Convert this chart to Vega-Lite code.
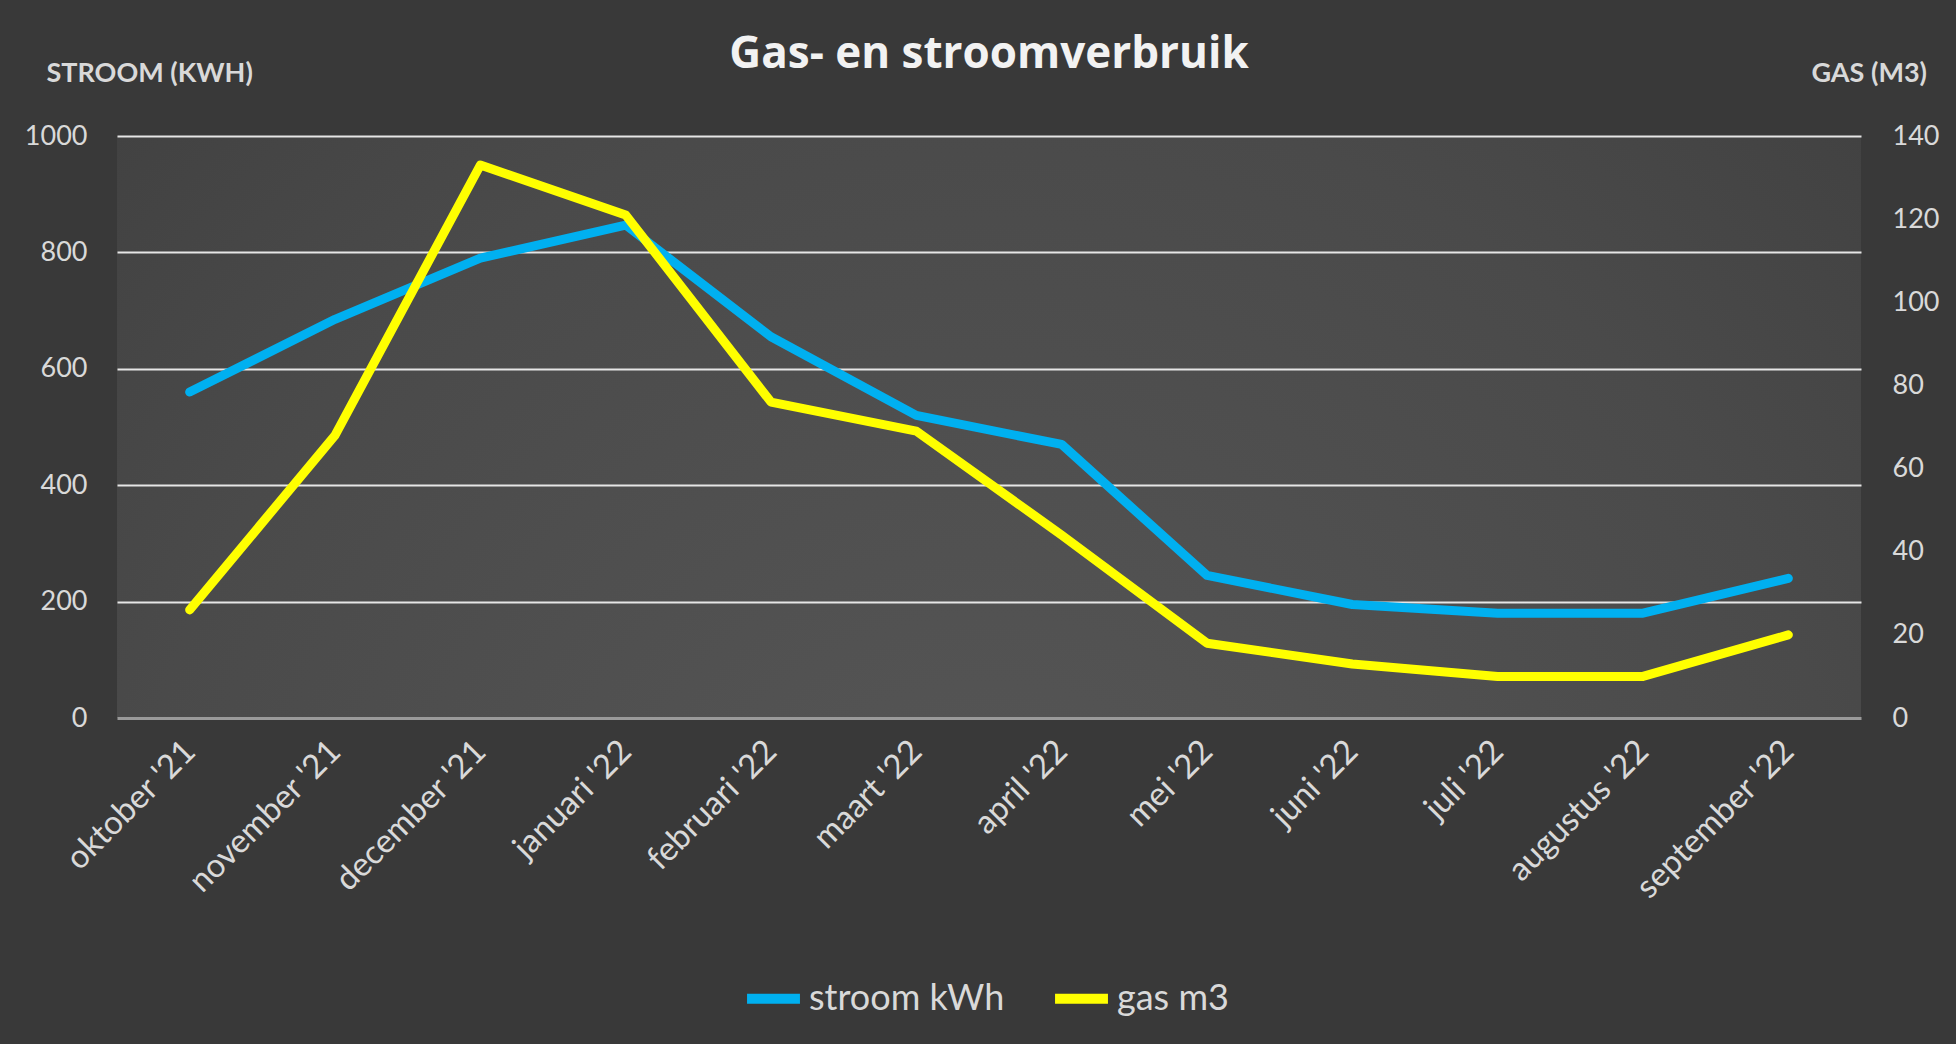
{
  "$schema": "https://vega.github.io/schema/vega-lite/v6.json",
  "autosize": "none",
  "width": 1744,
  "height": 582,
  "padding": {"left": 117, "top": 136, "right": 95, "bottom": 326},
  "background": "#393939",
  "title": {
    "text": "Gas- en stroomverbruik",
    "anchor": "middle",
    "frame": "group",
    "font": "Open Sans",
    "fontSize": 44,
    "fontWeight": "bold",
    "color": "#f2f2f2",
    "offset": 0,
    "dy": 18
  },
  "config": {
    "font": "Lato",
    "view": {
      "stroke": null,
      "fill": {
        "gradient": "radial",
        "x1": 0.5, "y1": 0.8, "r1": 0,
        "x2": 0.5, "y2": 0.8, "r2": 0.9,
        "stops": [
          {"offset": 0, "color": "#575757"},
          {"offset": 0.55, "color": "#4a4a4a"},
          {"offset": 1, "color": "#393939"}
        ]
      }
    },
    "axis": {
      "labelColor": "#d9d9d9",
      "titleColor": "#d9d9d9",
      "labelFont": "Lato",
      "titleFont": "Lato",
      "ticks": false,
      "tickSize": 0,
      "domain": false,
      "labelLimit": 0
    }
  },
  "data": {
    "values": [
      {"maand": "oktober '21", "stroom": 560, "gas": 26},
      {"maand": "november '21", "stroom": 685, "gas": 68},
      {"maand": "december '21", "stroom": 790, "gas": 133},
      {"maand": "januari '22", "stroom": 847, "gas": 121},
      {"maand": "februari '22", "stroom": 655, "gas": 76},
      {"maand": "maart '22", "stroom": 520, "gas": 69},
      {"maand": "april '22", "stroom": 470, "gas": 44},
      {"maand": "mei '22", "stroom": 245, "gas": 18},
      {"maand": "juni '22", "stroom": 195, "gas": 13},
      {"maand": "juli '22", "stroom": 180, "gas": 10},
      {"maand": "augustus '22", "stroom": 180, "gas": 10},
      {"maand": "september '22", "stroom": 240, "gas": 20}
    ]
  },
  "encoding": {
    "x": {
      "field": "maand",
      "type": "ordinal",
      "sort": null,
      "scale": {"type": "point", "padding": 0.5},
      "axis": {
        "title": null,
        "labelAngle": -45,
        "labelAlign": "right",
        "labelBaseline": "middle",
        "labelFontSize": 33,
        "labelPadding": 28,
        "labelLimit": 0,
        "grid": false
      }
    }
  },
  "layer": [
    {
      "mark": {"type": "line", "strokeWidth": 9, "strokeCap": "round", "strokeJoin": "round"},
      "encoding": {
        "y": {
          "field": "stroom",
          "type": "quantitative",
          "scale": {"domain": [0, 1000], "nice": false},
          "axis": {
            "orient": "left",
            "values": [0, 200, 400, 600, 800, 1000],
            "format": "d",
            "labelFontSize": 27,
            "labelPadding": 30,
            "grid": true,
            "gridColor": {"condition": {"test": "datum.value === 0", "value": "#9a9a9a"}, "value": "#e6e6e6"},
            "gridWidth": {"condition": {"test": "datum.value === 0", "value": 3}, "value": 2},
            "title": "STROOM (KWH)",
            "titleAngle": 0,
            "titleAlign": "left",
            "titleBaseline": "alphabetic",
            "titleX": -71,
            "titleY": -55,
            "titleFontSize": 27,
            "titleFontWeight": "bold"
          }
        },
        "color": {
          "datum": "stroom kWh",
          "type": "nominal",
          "scale": {"domain": ["stroom kWh", "gas m3"], "range": ["#00b0f0", "#ffff00"]},
          "legend": {
            "title": null,
            "orient": "none",
            "direction": "horizontal",
            "legendX": 625,
            "legendY": 831,
            "symbolType": "stroke",
            "symbolSize": 2800,
            "symbolStrokeWidth": 10,
            "labelFontSize": 36,
            "labelColor": "#d9d9d9",
            "labelLimit": 0,
            "labelOffset": 4,
            "columnPadding": 30
          }
        }
      }
    },
    {
      "mark": {"type": "line", "strokeWidth": 9, "strokeCap": "round", "strokeJoin": "round"},
      "encoding": {
        "y": {
          "field": "gas",
          "type": "quantitative",
          "scale": {"domain": [0, 140], "nice": false},
          "axis": {
            "orient": "right",
            "values": [0, 20, 40, 60, 80, 100, 120, 140],
            "labelFontSize": 27,
            "labelPadding": 31,
            "grid": false,
            "title": "GAS (M3)",
            "titleAngle": 0,
            "titleAlign": "left",
            "titleBaseline": "alphabetic",
            "titleX": -50,
            "titleY": -55,
            "titleFontSize": 27,
            "titleFontWeight": "bold"
          }
        },
        "color": {"datum": "gas m3", "type": "nominal"}
      }
    }
  ],
  "resolve": {"scale": {"y": "independent"}}
}
